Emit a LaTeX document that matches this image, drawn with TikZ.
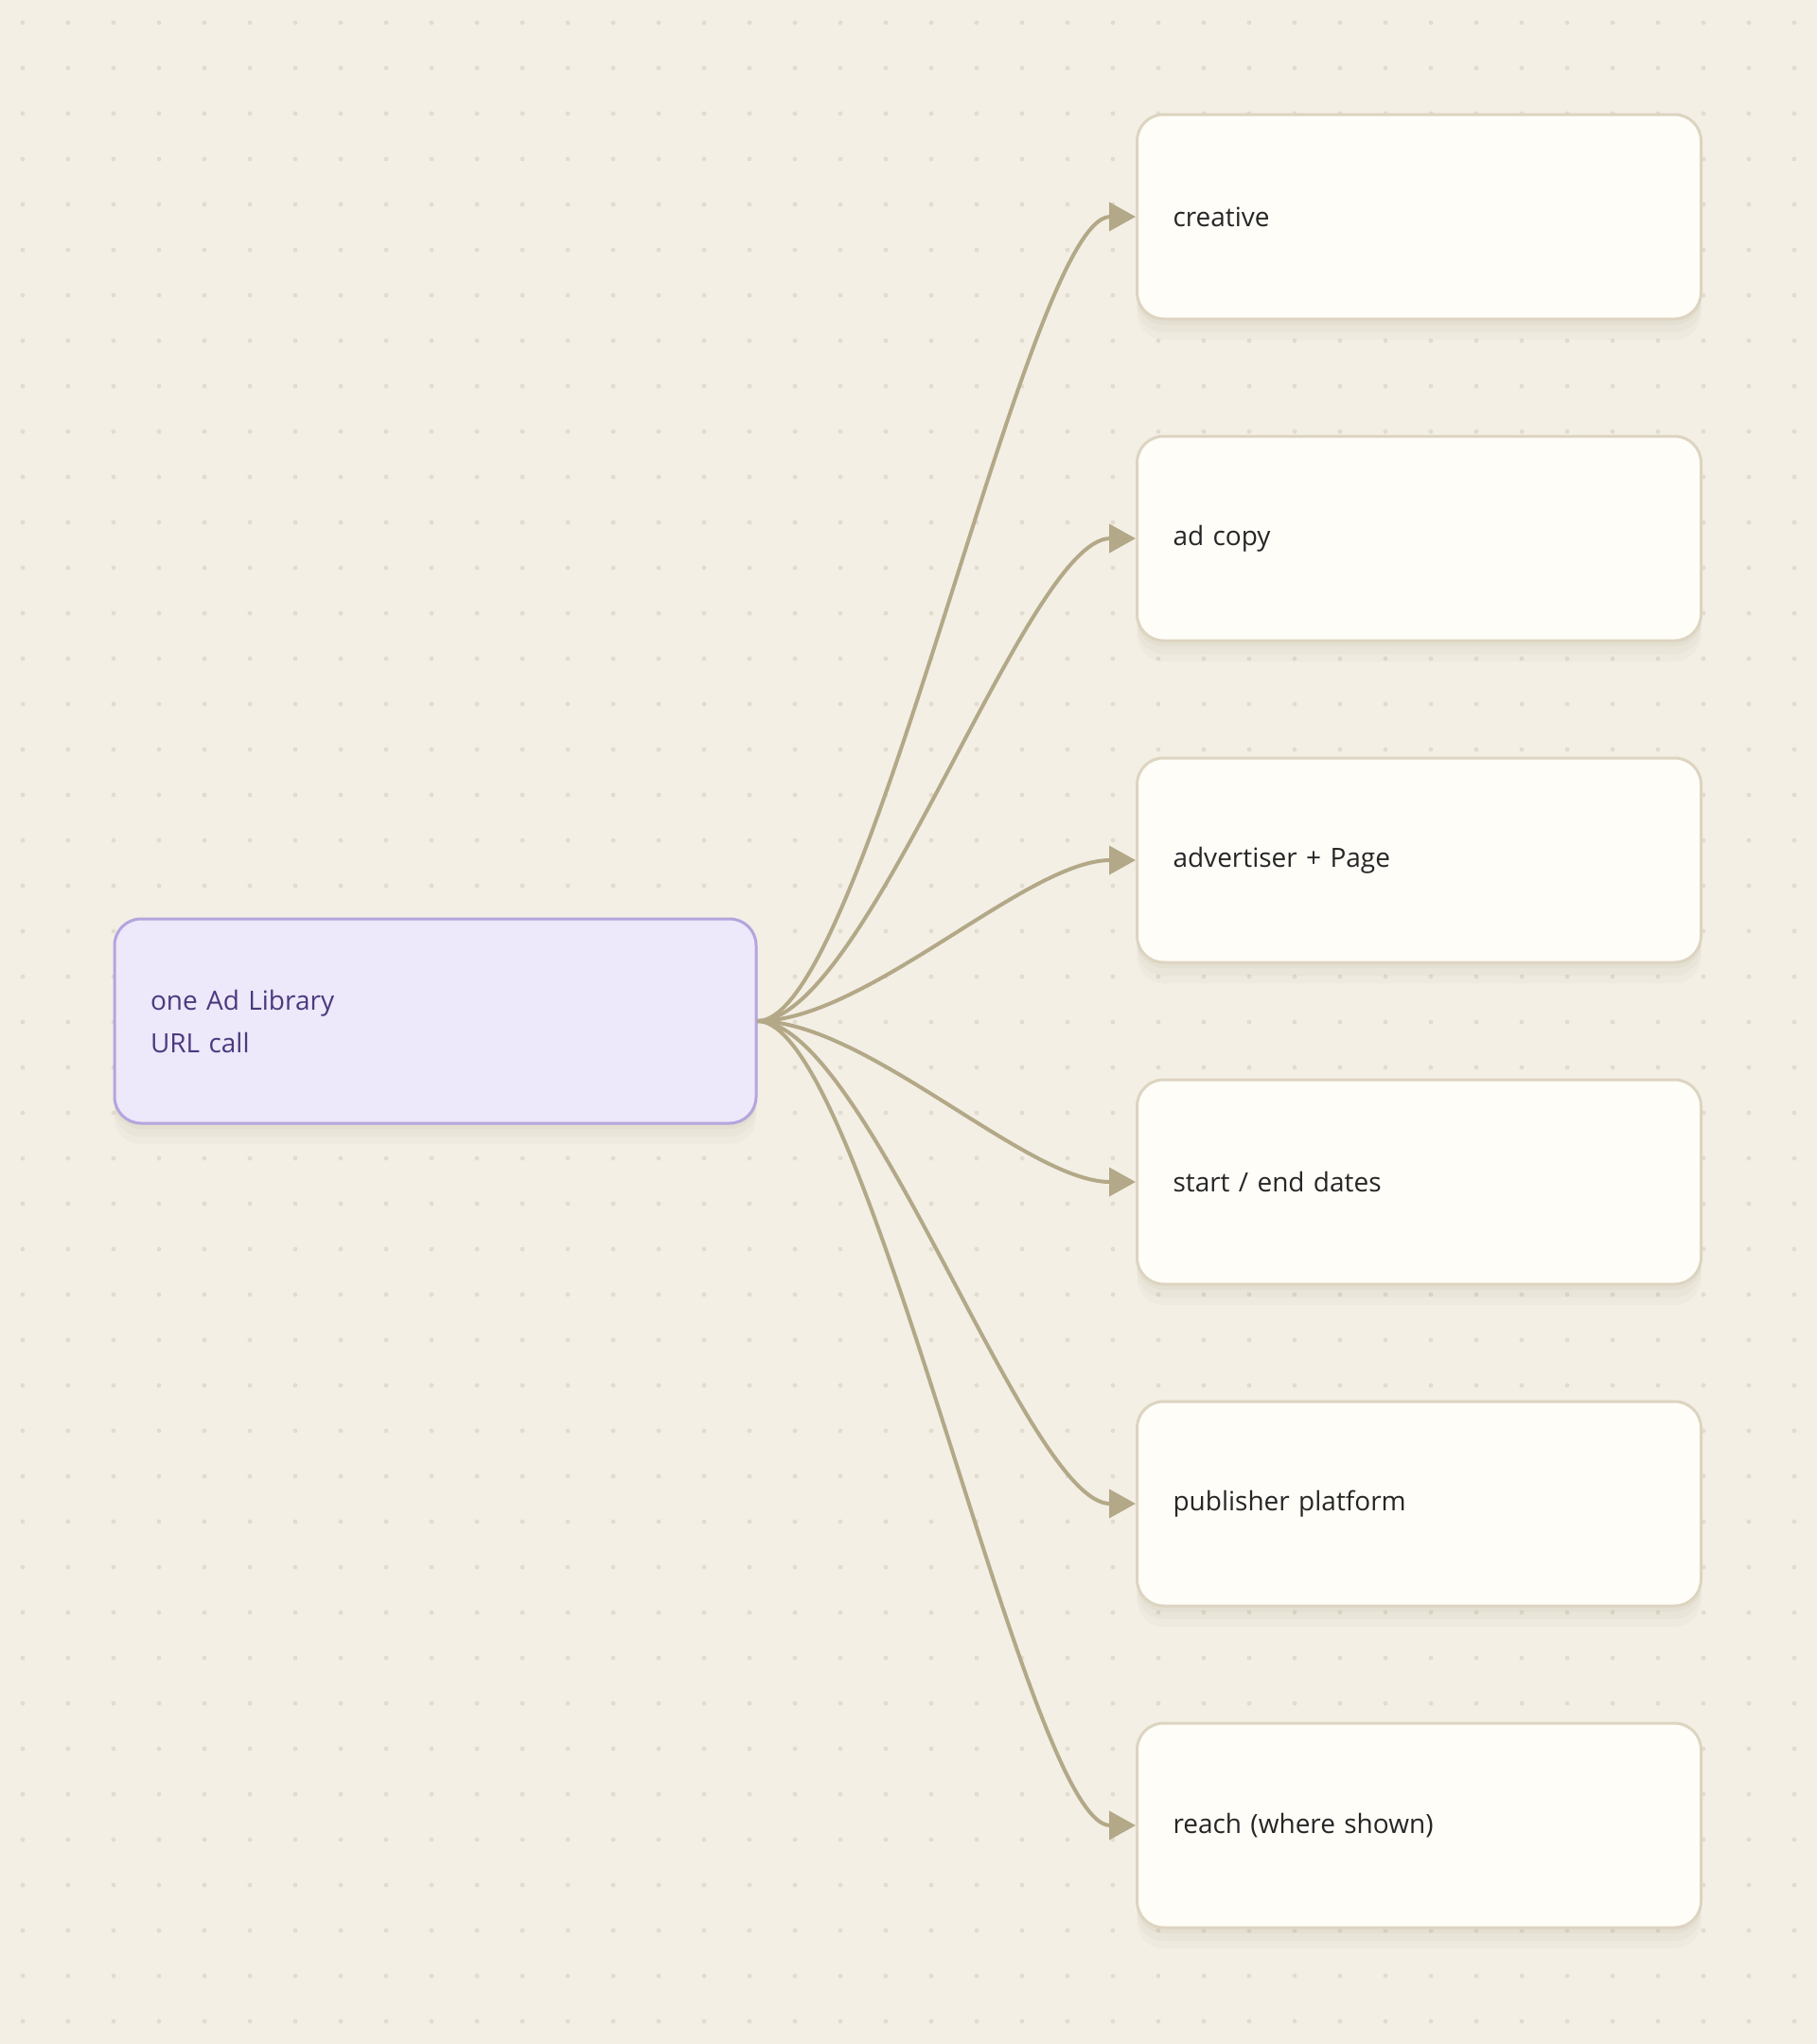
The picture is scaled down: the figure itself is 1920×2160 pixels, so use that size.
\documentclass[tikz,border=0pt]{standalone}
\usepackage{fontspec}
\setmainfont{Open Sans}
\usetikzlibrary{arrows.meta}
\definecolor{papier}{HTML}{F3EFE5}
\definecolor{punkt}{HTML}{E2DCCF}
\definecolor{lila}{HTML}{EDE8FA}
\definecolor{lilarand}{HTML}{B4A5DD}
\definecolor{lilatext}{HTML}{4B3A7D}
\definecolor{karte}{HTML}{FFFDF8}
\definecolor{kartenrand}{HTML}{DDD4C1}
\definecolor{linie}{HTML}{B3A887}
\definecolor{schatten}{HTML}{7A6A45}
\tikzset{
	box/.style={rectangle,rounded corners=14pt,line width=1.5pt,minimum height=108pt,
		inner xsep=19pt,align=left,font=\fontsize{14}{22.5}\selectfont,
		preaction={fill=schatten,opacity=.05,transform canvas={yshift=-3pt}},
		preaction={fill=schatten,opacity=.04,transform canvas={yshift=-7pt}},
		preaction={fill=schatten,opacity=.03,transform canvas={yshift=-11pt}}},
	quellbox/.style={box,draw=lilarand,fill=lila,text=lilatext,text width=301pt},
	zielbox/.style={box,draw=kartenrand,fill=karte,text=black!85,text width=260pt},
	pfeil/.style={draw=linie,line width=2pt,-{Triangle[length=14pt,width=15pt]}}
}
\begin{document}
\begin{tikzpicture}[x=0.5pt,y=-0.5pt]
	\fill[papier] (0,0) rectangle (1920,2160);
	\foreach \x in {0,...,39} \foreach \y in {0,...,44}
		\fill[punkt] ({24+48*\x},{24+48*\y}) circle (1.2pt);
	
	\node[quellbox] (quelle) at (460,1079) {one Ad Library\\URL call};
	\foreach \t [count=\i from 0] in {creative,ad copy,advertiser + Page,start / end dates,publisher platform,reach (where shown)}
		\node[zielbox] (ziel\i) at (1499.5,{229+340*\i}) {\t};
	\foreach \i in {0,...,5}
		\draw[pfeil] (quelle.east) .. controls +(115,0) and +(-115,0) .. (ziel\i.west);
\end{tikzpicture}
\end{document}
